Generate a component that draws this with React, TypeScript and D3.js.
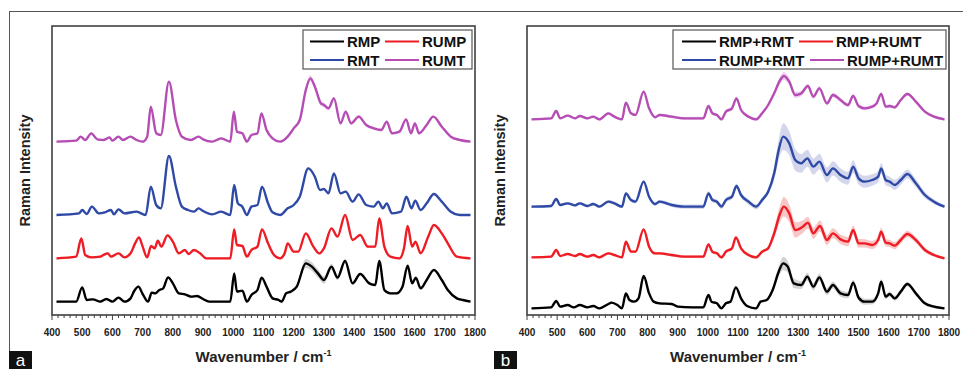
import React from "react";
import * as d3 from "d3";

// each point: [wavenumber (cm-1), intensity (a.u., offset included)]
type Pt = [number, number];

// ---- panel a ----
const rmp: Pt[] = [
  [415, 40], [480, 40], [500, 83], [515, 45], [535, 47], [560, 40], [580, 48], [600, 40], [620, 52], [640, 40],
  [660, 50], [672, 72], [686, 85], [700, 63], [718, 40], [730, 67], [742, 65], [755, 75], [768, 80], [784, 113],
  [800, 95], [820, 65], [840, 62], [860, 55], [880, 57], [900, 48], [920, 40], [960, 40], [990, 40], [1003, 125],
  [1012, 70], [1030, 73], [1045, 40], [1060, 60], [1080, 75], [1094, 112], [1110, 85], [1130, 50], [1150, 45],
  [1160, 40], [1175, 65], [1190, 70], [1210, 85], [1240, 155], [1260, 145], [1280, 125], [1300, 105], [1325, 145],
  [1345, 112], [1370, 162], [1395, 95], [1420, 123], [1450, 95], [1470, 90], [1483, 162], [1500, 75], [1520, 65],
  [1540, 65], [1560, 85], [1577, 148], [1592, 95], [1604, 112], [1620, 80], [1640, 105], [1664, 135], [1690, 105],
  [1710, 75], [1740, 50], [1760, 45], [1785, 40],
];
const rump: Pt[] = [
  [415, 170], [480, 175], [497, 230], [510, 180], [530, 173], [560, 175], [570, 180], [585, 185], [595, 175],
  [620, 185], [640, 173], [660, 185], [675, 215], [688, 233], [700, 205], [715, 173], [728, 207], [740, 200],
  [750, 223], [762, 205], [782, 239], [800, 220], [820, 185], [840, 195], [852, 183], [870, 195], [890, 185],
  [910, 170], [960, 170], [990, 170], [1003, 257], [1012, 210], [1030, 207], [1045, 175], [1060, 195], [1080, 205],
  [1095, 257], [1115, 215], [1135, 180], [1155, 170], [1170, 185], [1180, 215], [1200, 190], [1215, 190],
  [1240, 245], [1265, 205], [1285, 185], [1300, 200], [1325, 260], [1345, 235], [1370, 300], [1395, 225],
  [1420, 240], [1445, 205], [1470, 205], [1483, 290], [1500, 205], [1520, 175], [1550, 170], [1565, 200],
  [1577, 267], [1592, 205], [1603, 220], [1620, 185], [1645, 235], [1664, 270], [1690, 245], [1710, 215],
  [1740, 175], [1785, 170],
];
const rmt: Pt[] = [
  [415, 300], [490, 305], [500, 315], [515, 303], [532, 325], [555, 305], [575, 308], [595, 315], [605, 302],
  [620, 317], [640, 305], [680, 310], [710, 300], [727, 385], [745, 330], [760, 320], [787, 477], [810, 385],
  [830, 325], [850, 315], [870, 310], [885, 320], [900, 312], [930, 302], [960, 310], [990, 300], [1003, 390],
  [1015, 335], [1030, 325], [1045, 300], [1060, 325], [1080, 330], [1095, 385], [1115, 335], [1130, 308],
  [1155, 300], [1180, 320], [1200, 330], [1220, 355], [1248, 440], [1270, 415], [1287, 375], [1300, 378],
  [1315, 365], [1333, 425], [1355, 365], [1372, 370], [1395, 340], [1415, 362], [1440, 330], [1465, 325],
  [1480, 340], [1495, 320], [1508, 335], [1525, 305], [1555, 310], [1573, 355], [1590, 320], [1602, 343],
  [1620, 315], [1640, 335], [1664, 363], [1690, 340], [1720, 310], [1750, 300], [1785, 300],
];
const rumt: Pt[] = [
  [415, 520], [480, 523], [495, 535], [510, 525], [530, 545], [550, 527], [570, 525], [590, 533], [600, 523],
  [620, 535], [635, 525], [660, 535], [680, 525], [700, 520], [715, 535], [727, 625], [745, 545], [760, 540],
  [787, 700], [810, 585], [830, 535], [860, 525], [885, 535], [900, 527], [930, 520], [960, 530], [990, 520],
  [1002, 610], [1012, 550], [1030, 545], [1045, 520], [1060, 540], [1080, 545], [1093, 605], [1110, 555],
  [1130, 530], [1155, 520], [1180, 535], [1200, 560], [1220, 585], [1240, 675], [1255, 710], [1270, 685],
  [1290, 635], [1300, 630], [1315, 620], [1333, 650], [1355, 575], [1372, 610], [1390, 575], [1415, 595],
  [1440, 570], [1465, 560], [1490, 555], [1508, 580], [1525, 545], [1550, 550], [1572, 587], [1588, 545],
  [1601, 575], [1615, 545], [1640, 570], [1662, 595], [1690, 565], [1720, 535], [1750, 525], [1785, 520],
];

// ---- panel b ----
const rmpRmt: Pt[] = [
  [415, 20], [480, 23], [497, 42], [510, 25], [535, 30], [555, 23], [575, 30], [600, 23], [620, 27], [640, 20],
  [670, 33], [680, 37], [700, 30], [715, 20], [728, 65], [740, 45], [755, 40], [770, 50], [787, 117], [805, 65],
  [820, 40], [840, 35], [880, 33], [900, 25], [950, 23], [985, 23], [1002, 60], [1012, 40], [1030, 35], [1045, 20],
  [1060, 35], [1075, 40], [1093, 83], [1110, 50], [1130, 27], [1160, 20], [1175, 40], [1195, 45], [1215, 75],
  [1235, 130], [1250, 155], [1265, 145], [1285, 95], [1310, 90], [1330, 115], [1350, 85], [1370, 113], [1395, 70],
  [1415, 90], [1440, 65], [1465, 60], [1482, 97], [1500, 52], [1520, 40], [1545, 40], [1565, 65], [1575, 100],
  [1590, 55], [1603, 63], [1620, 50], [1640, 70], [1662, 93], [1690, 65], [1720, 35], [1750, 25], [1785, 20],
];
const rmpRumt: Pt[] = [
  [415, 173], [480, 175], [497, 195], [510, 177], [535, 183], [560, 177], [575, 183], [600, 175], [620, 180],
  [640, 173], [670, 185], [690, 180], [715, 173], [728, 220], [745, 190], [760, 190], [787, 257], [805, 205],
  [825, 185], [840, 185], [880, 180], [920, 175], [985, 175], [1002, 212], [1015, 190], [1030, 185], [1045, 173],
  [1060, 190], [1080, 200], [1093, 233], [1110, 200], [1135, 180], [1160, 173], [1180, 190], [1200, 200],
  [1220, 245], [1240, 305], [1252, 325], [1270, 305], [1290, 255], [1315, 265], [1332, 277], [1350, 245],
  [1372, 267], [1395, 225], [1415, 245], [1440, 227], [1465, 220], [1482, 255], [1500, 215], [1520, 215],
  [1545, 210], [1565, 225], [1575, 250], [1590, 217], [1603, 215], [1620, 208], [1640, 225], [1662, 243],
  [1690, 225], [1720, 195], [1750, 180], [1785, 170],
];
const rumpRmt: Pt[] = [
  [415, 325], [480, 327], [497, 348], [510, 330], [535, 335], [560, 329], [575, 335], [600, 327], [620, 333],
  [640, 325], [670, 340], [690, 335], [715, 325], [728, 365], [745, 345], [760, 340], [787, 400], [805, 355],
  [825, 333], [840, 340], [880, 330], [920, 325], [985, 325], [1002, 365], [1015, 345], [1030, 340], [1045, 325],
  [1060, 345], [1080, 355], [1095, 387], [1110, 360], [1135, 340], [1160, 325], [1180, 345], [1200, 370],
  [1220, 425], [1235, 495], [1250, 535], [1270, 515], [1290, 465], [1310, 455], [1330, 470], [1350, 445],
  [1370, 460], [1395, 420], [1415, 440], [1440, 420], [1465, 410], [1482, 445], [1500, 410], [1520, 400],
  [1545, 405], [1565, 415], [1575, 440], [1590, 405], [1603, 400], [1620, 390], [1640, 405], [1662, 423],
  [1690, 395], [1720, 360], [1750, 340], [1785, 325],
];
const rumpRumt: Pt[] = [
  [415, 587], [480, 590], [497, 612], [510, 590], [535, 598], [560, 590], [575, 597], [600, 590], [620, 595],
  [640, 587], [670, 605], [690, 595], [715, 587], [728, 637], [745, 605], [760, 600], [787, 670], [805, 620],
  [825, 593], [840, 600], [880, 595], [920, 590], [985, 590], [1002, 627], [1015, 605], [1030, 600], [1045, 587],
  [1060, 610], [1080, 620], [1095, 650], [1110, 615], [1135, 595], [1160, 587], [1180, 605], [1200, 630],
  [1220, 665], [1240, 705], [1252, 717], [1270, 700], [1290, 660], [1310, 665], [1332, 687], [1350, 655],
  [1370, 680], [1395, 635], [1415, 660], [1440, 645], [1465, 630], [1482, 657], [1500, 627], [1520, 620],
  [1545, 625], [1560, 635], [1575, 663], [1590, 625], [1603, 627], [1620, 623], [1640, 645], [1662, 663],
  [1690, 640], [1720, 610], [1750, 595], [1785, 587],
];

// shaded spread (half width, same units) at a few wavenumbers
const sdRmp: Pt[] = [[400, 3], [1200, 3], [1240, 14], [1320, 10], [1400, 4], [1800, 3]];
const sdRump: Pt[] = [[400, 3], [1800, 3]];
const sdRmt: Pt[] = [[400, 3], [1800, 3]];
const sdRumt: Pt[] = [[400, 3], [1200, 3], [1255, 9], [1330, 5], [1800, 3]];
const sdRmpRmt: Pt[] = [[400, 3], [1200, 4], [1250, 20], [1300, 12], [1450, 10], [1700, 6], [1800, 3]];
const sdRmpRumt: Pt[] = [[400, 3], [1200, 5], [1250, 30], [1320, 18], [1450, 14], [1650, 10], [1800, 3]];
const sdRumpRmt: Pt[] = [[400, 3], [1200, 8], [1250, 40], [1320, 26], [1450, 20], [1650, 14], [1800, 4]];
const sdRumpRumt: Pt[] = [[400, 3], [1200, 5], [1250, 12], [1320, 7], [1800, 4]];

const namesA = ["RMP", "RUMP", "RMT", "RUMT"];
const namesB = ["RMP+RMT", "RMP+RUMT", "RUMP+RMT", "RUMP+RUMT"];
const xTicks = d3.range(400, 1801, 100);
const xMinor = d3.range(400, 1801, 20);

const colors = ["#000000", "#ee1c24", "#2e49a6", "#b54db5"];
const bandColors = ["#c4c4c4", "#f7b3b3", "#c6c9e6", "#ebbdeb"];

const FONT = "'Liberation Sans', Arial, sans-serif";

type Series = { name: string; data: Pt[]; sd: Pt[] };

const Panel = ({ left, right, series, legend, letter, letterX }: {
  left: number; right: number; series: Series[];
  legend: { x: number; w: number; cols: number[][] }; letter: string; letterX: number;
}) => {
  const top = 26, bottom = 315;
  const x = d3.scaleLinear().domain([400, 1800]).range([left, right]);
  const y = d3.scaleLinear().domain([0, 867]).range([bottom, top]);
  const line = d3.line<Pt>().x((d) => x(d[0])).y((d) => y(d[1])).curve(d3.curveMonotoneX);
  const cx = (left + right) / 2;

  return (
    <g>
      {/* bands */}
      {series.map((s, i) => {
        const sd = d3.scaleLinear().domain(s.sd.map((d) => d[0])).range(s.sd.map((d) => d[1])).clamp(true);
        const area = d3.area<Pt>().x((d) => x(d[0])).y0((d) => y(d[1] - sd(d[0]))).y1((d) => y(d[1] + sd(d[0])))
          .curve(d3.curveMonotoneX);
        return <path key={"b" + i} d={area(s.data) || ""} fill={bandColors[i]} opacity={0.75} />;
      })}
      {series.map((s, i) => (
        <path key={"l" + i} d={line(s.data) || ""} fill="none" stroke={colors[i]} strokeWidth={2.4} strokeLinejoin="round" />
      ))}
      <rect x={left} y={top} width={right - left} height={bottom - top} fill="none" stroke="#404040" strokeWidth={1.6} />
      {xMinor.map((t) => (
        <line key={"m" + t} x1={x(t)} x2={x(t)} y1={bottom} y2={bottom + (t % 100 === 0 ? 5 : 3)} stroke="#404040" strokeWidth={1} />
      ))}
      {xTicks.map((t) => (
        <text key={"t" + t} x={x(t)} y={336} textAnchor="middle" fontFamily={FONT} fontWeight="bold" fontSize={10} fill="#222">
          {t}
        </text>
      ))}
      <text x={cx} y={362} textAnchor="middle" fontFamily={FONT} fontWeight="bold" fontSize={15} fill="#222">
        Wavenumber / cm<tspan dy={-6} fontSize={9}>-1</tspan>
      </text>
      <text transform={`translate(${left - 22},${(top + bottom) / 2}) rotate(-90)`} textAnchor="middle"
        fontFamily={FONT} fontWeight="bold" fontSize={14.5} fill="#222">
        Raman Intensity
      </text>
      {/* legend */}
      <rect x={legend.x} y={30} width={legend.w} height={39} fill="#fff" stroke="#555" strokeWidth={1.2} />
      {series.map((s, i) => {
        const row = Math.floor(i / 2), col = i % 2;
        const lx = legend.x + legend.cols[row][col];
        const ly = row === 0 ? 41.5 : 60;
        return (
          <g key={"g" + i}>
            <line x1={lx} x2={lx + 34} y1={ly} y2={ly} stroke={colors[i]} strokeWidth={2} />
            <text x={lx + 37} y={ly + 5.5} fontFamily={FONT} fontWeight="bold" fontSize={15} fill="#111">{s.name}</text>
          </g>
        );
      })}
      <rect x={letterX} y={351} width={23} height={18} fill="#111" />
      <text x={letterX + 11.5} y={366} textAnchor="middle" fontFamily={FONT} fontSize={17} fill="#fff">{letter}</text>
    </g>
  );
};

export default function App() {
  const seriesA: Series[] = [
    { name: namesA[0], data: rmp, sd: sdRmp },
    { name: namesA[1], data: rump, sd: sdRump },
    { name: namesA[2], data: rmt, sd: sdRmt },
    { name: namesA[3], data: rumt, sd: sdRumt },
  ];
  const seriesB: Series[] = [
    { name: namesB[0], data: rmpRmt, sd: sdRmpRmt },
    { name: namesB[1], data: rmpRumt, sd: sdRmpRumt },
    { name: namesB[2], data: rumpRmt, sd: sdRumpRmt },
    { name: namesB[3], data: rumpRumt, sd: sdRumpRumt },
  ];
  return (
    <svg width={963} height={369} style={{ position: "absolute", left: 0, top: 0, background: "#fff" }}>
      <line x1={9} x2={963} y1={11.5} y2={11.5} stroke="#555" strokeWidth={1} />
      <line x1={9.5} x2={9.5} y1={11} y2={351} stroke="#555" strokeWidth={1} />
      <Panel left={52} right={475} series={seriesA} letter="a" letterX={9}
        legend={{ x: 303, w: 169, cols: [[7, 82], [7, 82]] }} />
      <Panel left={527} right={949} series={seriesB} letter="b" letterX={494}
        legend={{ x: 673, w: 273, cols: [[9, 126], [9, 137]] }} />
    </svg>
  );
}
